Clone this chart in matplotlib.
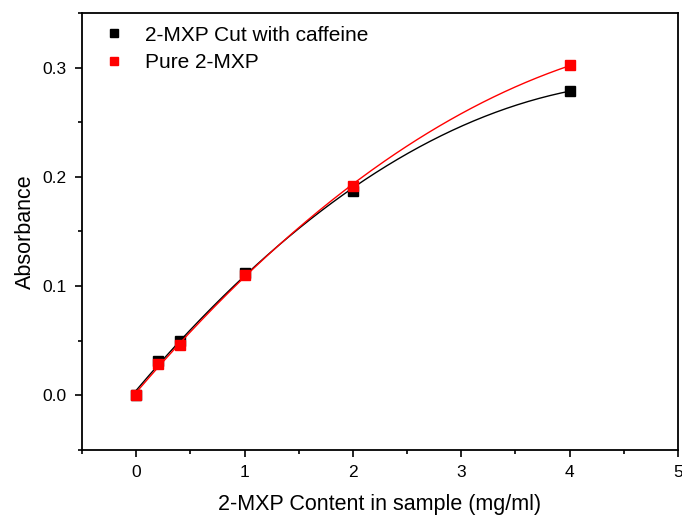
import numpy as np
import matplotlib
matplotlib.use("Agg")
import matplotlib.pyplot as plt
from matplotlib.ticker import MultipleLocator

plt.rcParams['font.family'] = ['Liberation Sans', 'DejaVu Sans']

# concentrations (mg/ml)
conc = [0, 0.2, 0.4, 1, 2, 4]
# absorbance readings
cut_caffeine = [0.0, 0.031, 0.050, 0.112, 0.187, 0.279]
pure_mxp = [0.0, 0.029, 0.046, 0.110, 0.192, 0.302]

fig = plt.figure(figsize=(6.82, 5.18), dpi=100)
ax = fig.add_axes([0.1202, 0.1313, 0.8739, 0.8436])

xs = np.linspace(0, 4, 200)
for ys, col, lab in [(cut_caffeine, 'black', '2-MXP Cut with caffeine'),
                     (pure_mxp, 'red', 'Pure 2-MXP')]:
    p = np.polyfit(conc, ys, 2)
    ax.plot(xs, np.polyval(p, xs), color=col, lw=1)
    ax.plot(conc, ys, 's', color=col, ms=7, label=lab, ls='none')

ax.set_xlim(-0.5, 5)
ax.set_ylim(-0.05, 0.35)
ax.xaxis.set_major_locator(MultipleLocator(1))
ax.xaxis.set_minor_locator(MultipleLocator(0.5))
ax.yaxis.set_major_locator(MultipleLocator(0.1))
ax.yaxis.set_minor_locator(MultipleLocator(0.05))
ax.yaxis.set_major_formatter(matplotlib.ticker.FormatStrFormatter('%.1f'))
ax.tick_params(which='major', direction='out', length=5, width=1.2, labelsize=12.5, pad=6)
ax.tick_params(which='minor', direction='out', length=3, width=1.2)
for s in ax.spines.values():
    s.set_linewidth(1.3)

ax.set_xlabel('2-MXP Content in sample (mg/ml)', fontsize=15.5, labelpad=10)
ax.set_ylabel('Absorbance', fontsize=15.5, labelpad=5)

ax.legend(loc='upper left', frameon=False, fontsize=15, markerscale=0.75,
          handletextpad=1.0, handlelength=1.0, borderaxespad=0.2,
          labelspacing=0.4, bbox_to_anchor=(0.015, 1.0))

fig.savefig('out.png', dpi=100)
